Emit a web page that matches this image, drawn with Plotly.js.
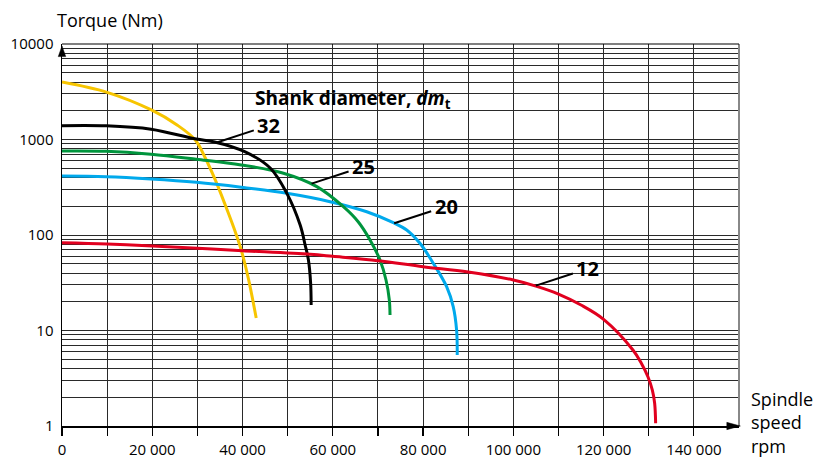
<!DOCTYPE html>
<html><head><meta charset="utf-8">
<script src="https://cdn.plot.ly/plotly-3.0.1.min.js"></script>
<style>html,body{margin:0;padding:0;background:#fff}#chart{width:821px;height:459px}</style>
</head><body><div id="chart"></div>
<script>
// Spindle speed (rpm) and torque (Nm)
const speedYellow = [0, 10000, 19800, 25490, 29540, 31750, 33960, 36170, 38010, 39710, 41260, 43030];
const torqueYellow = [4000, 3120, 2040, 1420, 988, 640, 377, 206, 121, 69.6, 35.5, 13.5];

const speed32 = [0, 9780, 19730, 29760, 33580, 40600, 46130, 49820, 52770, 53870, 54600, 55090, 55200];
const torque32 = [1395, 1390, 1280, 1010, 948, 742, 503, 273, 127, 78.6, 54.7, 31.2, 18.5];

const speed25 = [0, 9780, 19730, 29760, 39710, 49070, 56460, 62340, 65660, 68250, 70460, 71790, 72520, 72680];
const torque25 = [758, 752, 700, 620, 541, 443, 321, 198, 137, 88.7, 54.7, 33.8, 20.9, 14.5];

const speed20 = [0, 9780, 19730, 29760, 39710, 49820, 59400, 67520, 73410, 76370, 79310, 82260, 85220, 86680, 87430, 87570];
const torque20 = [415, 408, 386, 356, 316, 273, 223, 175, 134.6, 113, 81.9, 50.6, 28.8, 17.8, 10.1, 5.54];

const speed12 = [0, 10000, 20000, 30000, 40000, 55000, 60000, 70000, 80000, 90000, 100000, 105000, 110000, 115000, 120000, 126500, 128360, 129820, 130800, 131310, 131530];
const torque12 = [83, 80.5, 76.7, 72.6, 68.5, 62.8, 59.8, 53.8, 46.6, 41.0, 33.8, 29.2, 24.1, 18.5, 13.1, 6.25, 4.54, 3.28, 2.38, 1.73, 1.07];

// Curve labels and the curve points their leader lines touch
const labelNames = ['32', '25', '20', '12'];
const labelSpeed = [34300, 55300, 73600, 105000];
const labelTorque = [930, 345, 132.6, 29.5];

// Axis ticks
const xTickVals = [0,10000,20000,30000,40000,50000,60000,70000,80000,90000,100000,110000,120000,130000,140000];
const xTickText = ['0','','20 000','','40 000','','60 000','','80 000','','100 000','','120 000','','140 000'];
const yDecades = [1, 10, 100, 1000, 10000];
const yDecadeText = ['1', '10', '100', '1000', '10000'];

const yTickVals = [], yTickText = [];
yDecades.forEach((d, i) => {
  if (i < yDecades.length - 1) {
    for (let k = 1; k <= 9; k++) { yTickVals.push(d * k); yTickText.push(k === 1 ? yDecadeText[i] : ''); }
  } else { yTickVals.push(d); yTickText.push(yDecadeText[i]); }
});

const FONT = 'Open Sans, Noto Sans, sans-serif';
function tr(x, y, color, name) {
  return {x: x, y: y, type: 'scatter', mode: 'lines', name: name,
    line: {color: color, width: 3, shape: 'spline', smoothing: 1}, showlegend: false, hoverinfo: 'skip'};
}
const data = [
  tr(speedYellow, torqueYellow, '#f7c500', 'yellow'),
  tr(speed20, torque20, '#00a9ec', '20'),
  tr(speed25, torque25, '#00953d', '25'),
  tr(speed32, torque32, '#000000', '32'),
  tr(speed12, torque12, '#e1001f', '12')
];

const annotations = labelNames.map((t, i) => ({
  x: labelSpeed[i], y: Math.log10(labelTorque[i]), xref: 'x', yref: 'y',
  text: '<b>' + t + '</b>', showarrow: true, arrowhead: 0, arrowwidth: 2, arrowcolor: '#000',
  ax: 52, ay: -17, borderpad: 3, font: {family: FONT, size: 20, color: '#000'}
}));
annotations.push({
  x: 64500, y: 3.42, xref: 'x', yref: 'y', xanchor: 'center', yanchor: 'middle', showarrow: false,
  text: '<b>Shank diameter, <i>dm</i><sub>t</sub></b>', font: {family: FONT, size: 19, color: '#000'}
});
annotations.push({
  x: -0.01, y: 1.063, xref: 'paper', yref: 'paper', xanchor: 'left', yanchor: 'middle', showarrow: false,
  text: 'Torque (Nm)', font: {family: FONT, size: 18, color: '#000'}
});
annotations.push({
  x: 1.015, y: 0.01, xref: 'paper', yref: 'paper', xanchor: 'left', yanchor: 'middle', align: 'left', showarrow: false,
  text: 'Spindle<br>speed<br>rpm', font: {family: FONT, size: 18, color: '#000'}
});

const layout = {
  width: 821, height: 459,
  margin: {l: 62, r: 82, t: 44, b: 33},
  paper_bgcolor: '#fff', plot_bgcolor: '#fff',
  font: {family: FONT, size: 15, color: '#000'},
  xaxis: {range: [0, 150000], tickvals: xTickVals, ticktext: xTickText, ticks: 'outside', ticklen: 8,
    tickcolor: '#000', tickwidth: 1.2, showgrid: true, gridcolor: '#2a2a2a', gridwidth: 1,
    showline: true, linecolor: '#000', linewidth: 1.5, zeroline: false, ticklabelstandoff: 1,
    tickfont: {family: FONT, size: 15, color: '#000'}},
  yaxis: {type: 'log', range: [0, 4], tickvals: yTickVals, ticktext: yTickText, ticks: '',
    showgrid: true, gridcolor: '#2a2a2a', gridwidth: 1, showline: true, linecolor: '#000', linewidth: 1.5,
    zeroline: false, ticklabelstandoff: 4, tickfont: {family: FONT, size: 15, color: '#000'}},
  shapes: [
    {type: 'line', xref: 'paper', yref: 'paper', x0: 1, x1: 1, y0: 0, y1: 1, line: {color: '#888', width: 2}},
    {type: 'line', xref: 'paper', yref: 'paper', x0: 0, x1: 1, y0: 1, y1: 1, line: {color: '#000', width: 1.2}},
    // axis arrowheads
    {type: 'path', xref: 'paper', yref: 'paper', path: 'M 0 0.995 L -0.0055 0.967 L 0.0055 0.967 Z',
      fillcolor: '#000', line: {color: '#000', width: 0.5}},
    {type: 'path', xref: 'paper', yref: 'paper', path: 'M 1.002 0 L 0.982 0.0095 L 0.982 -0.0095 Z',
      fillcolor: '#000', line: {color: '#000', width: 0.5}}
  ],
  annotations: annotations
};
Plotly.newPlot('chart', data, layout, {displayModeBar: false, staticPlot: true});
</script></body></html>
